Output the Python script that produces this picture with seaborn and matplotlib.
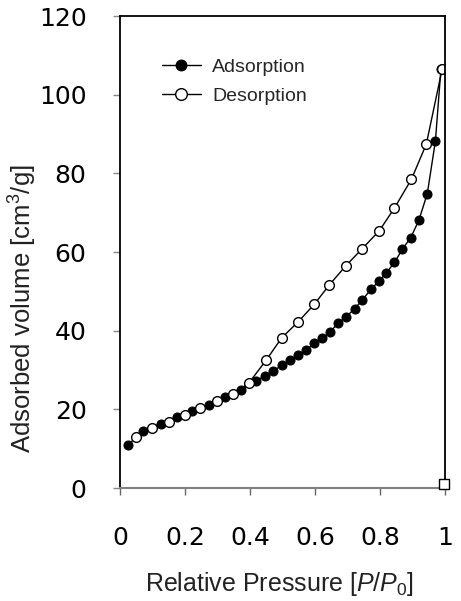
import matplotlib
matplotlib.use("Agg")
import matplotlib.pyplot as plt
import seaborn as sns
import pandas as pd

# Adsorption branch (filled circles)
ads_p = [0.024, 0.071, 0.126, 0.176, 0.223, 0.274, 0.323, 0.373, 0.419, 0.447,
         0.471, 0.498, 0.523, 0.547, 0.573, 0.598, 0.622, 0.647, 0.672, 0.697,
         0.722, 0.746, 0.772, 0.798, 0.820, 0.845, 0.869, 0.895, 0.920, 0.946,
         0.971, 0.988]
ads_v = [10.9, 14.5, 16.4, 18.0, 19.6, 21.0, 23.1, 24.9, 27.3, 28.5,
         29.7, 31.2, 32.5, 33.8, 35.1, 36.8, 38.1, 39.7, 42.0, 43.6,
         45.6, 47.8, 50.5, 52.7, 54.7, 57.4, 60.7, 63.7, 68.1, 74.9,
         88.3, 106.7]

# Desorption branch (open circles)
des_p = [0.992, 0.943, 0.897, 0.844, 0.798, 0.746, 0.695, 0.644, 0.598, 0.549,
         0.498, 0.450, 0.396, 0.348, 0.298, 0.248, 0.199, 0.150, 0.100, 0.051]
des_v = [106.7, 87.5, 78.5, 71.1, 65.4, 60.9, 56.5, 51.6, 46.7, 42.3,
         38.2, 32.5, 26.6, 23.9, 22.2, 20.3, 18.6, 16.8, 15.2, 13.0]

# stray open square at the axis end
sq_p = [0.997]
sq_v = [0.9]

x_ticks = [0, 0.2, 0.4, 0.6, 0.8, 1.0]
x_tick_labels = ["0", "0.2", "0.4", "0.6", "0.8", "1"]
y_ticks = [0, 20, 40, 60, 80, 100, 120]

sns.set_theme(style="white")
plt.rcParams["font.family"] = ["DejaVu Sans"]
plt.rcParams["mathtext.fontset"] = "custom"
plt.rcParams["mathtext.rm"] = "Liberation Sans"
plt.rcParams["mathtext.it"] = "Liberation Sans:italic"

fig = plt.figure(figsize=(4.61, 6.01), dpi=100)
ax = fig.add_axes([0.260, 0.188, 0.705, 0.785])

ads = pd.DataFrame({"p": ads_p, "v": ads_v})
des = pd.DataFrame({"p": des_p, "v": des_v})
sq = pd.DataFrame({"p": sq_p, "v": sq_v})

sns.lineplot(data=ads, x="p", y="v", ax=ax, sort=False, estimator=None,
             color="black", lw=1.0, marker="o", markersize=6.5,
             markerfacecolor="black", markeredgecolor="black",
             label="Adsorption")
sns.lineplot(data=des, x="p", y="v", ax=ax, sort=False, estimator=None,
             color="black", lw=1.0, marker="o", markersize=7,
             markerfacecolor="white", markeredgecolor="black", markeredgewidth=1.0,
             label="Desorption")
sns.scatterplot(data=sq, x="p", y="v", ax=ax, marker="s", s=50,
                facecolor="white", edgecolor="black", linewidth=1.0,
                zorder=5, clip_on=False)

ax.set_xlim(0, 1.0)
ax.set_ylim(0, 120)
ax.set_xticks(x_ticks)
ax.set_xticklabels(x_tick_labels)
ax.set_yticks(y_ticks)

for s in ["top", "right", "left"]:
    ax.spines[s].set_color("black")
    ax.spines[s].set_linewidth(1.3)
ax.spines["bottom"].set_color("#808080")
ax.spines["bottom"].set_linewidth(1.5)

ax.tick_params(axis="x", direction="out", length=5, width=1, color="#666666",
               pad=22, labelsize=18, labelcolor="black", bottom=True)
ax.tick_params(axis="y", direction="out", length=5, width=1, color="#888888",
               pad=19, labelsize=18, labelcolor="black", left=True)

ax.set_xlabel("Relative Pressure [$P$/$P_0$]", fontsize=18,
              family="Liberation Sans", color="#222222")
ax.set_ylabel("Adsorbed volume [cm$^3$/g]", fontsize=18.5,
              family="Liberation Sans", color="#222222")
ax.xaxis.set_label_coords(0.49, -0.174)
ax.yaxis.set_label_coords(-0.248, 0.381)

leg = ax.legend(loc="upper left", bbox_to_anchor=(0.075, 0.948), frameon=False,
                prop={"family": "Liberation Sans", "size": 14},
                handlelength=2.0, handletextpad=0.6, labelspacing=0.6,
                markerscale=1.2)

fig.savefig("out.png", dpi=100)
